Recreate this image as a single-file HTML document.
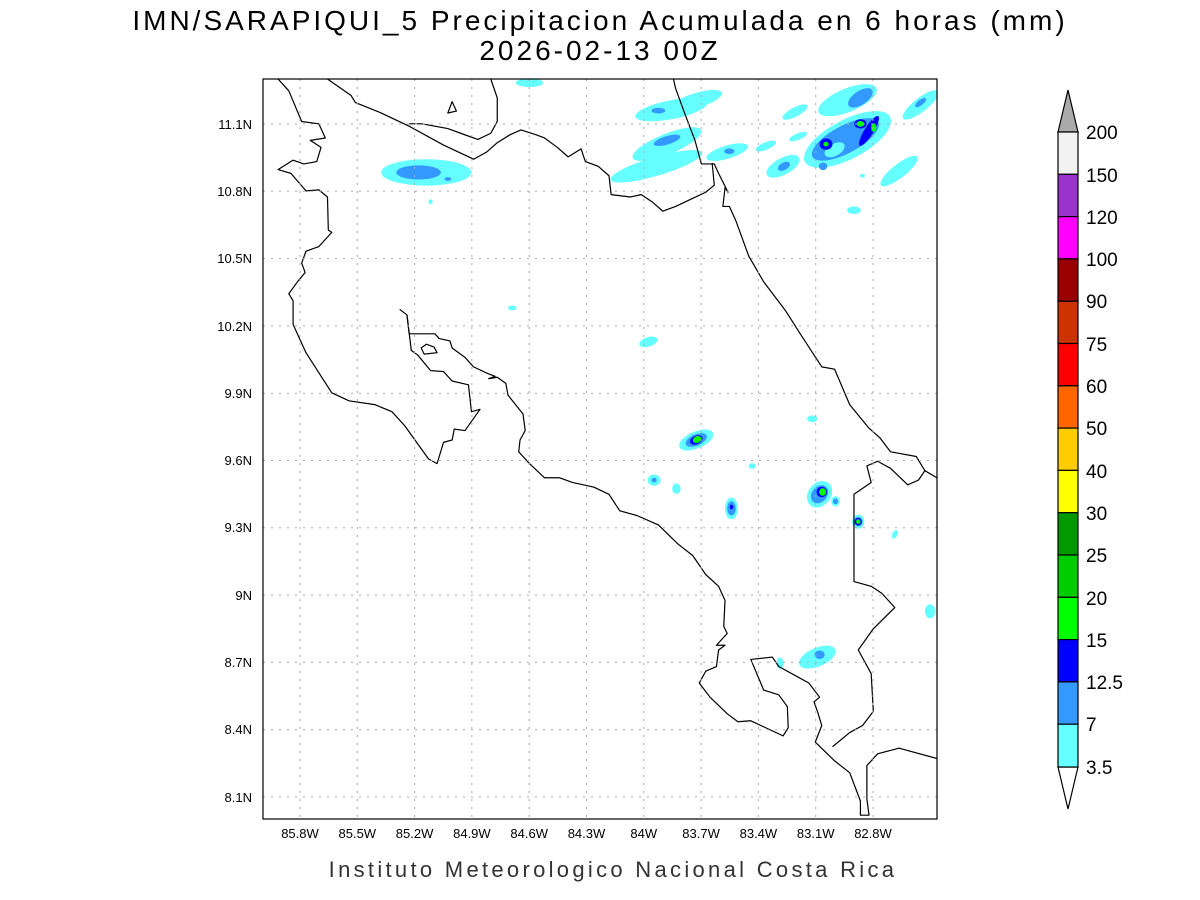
<!DOCTYPE html>
<html><head><meta charset="utf-8"><style>
html,body{margin:0;padding:0;background:#fff}
svg{display:block;font-family:"Liberation Sans",sans-serif}
</style></head><body>
<svg width="1200" height="900" viewBox="0 0 1200 900" xmlns="http://www.w3.org/2000/svg">
<rect width="1200" height="900" fill="#fff"/>
<text x="600" y="30" font-size="28" text-anchor="middle" letter-spacing="3">IMN/SARAPIQUI_5 Precipitacion Acumulada en 6 horas (mm)</text>
<text x="600" y="60" font-size="28" text-anchor="middle" letter-spacing="3">2026-02-13 00Z</text>
<text x="613" y="877" font-size="22" text-anchor="middle" fill="#333" letter-spacing="3.3">Instituto Meteorologico Nacional Costa Rica</text>
<defs><clipPath id="c"><rect x="263" y="79" width="674" height="740"/></clipPath></defs>
<g clip-path="url(#c)">
<g transform="translate(263,79) scale(0.4298,0.4719)">
<g fill="#66ffff">
<ellipse cx="380" cy="198" rx="105" ry="28"/>
<ellipse cx="620" cy="8" rx="32" ry="9"/>
<ellipse cx="950" cy="65" rx="85" ry="20" transform="rotate(-10 950 65)"/>
<ellipse cx="1010" cy="45" rx="60" ry="16" transform="rotate(-15 1010 45)"/>
<ellipse cx="940" cy="138" rx="85" ry="22" transform="rotate(-20 940 138)"/>
<ellipse cx="915" cy="185" rx="110" ry="20" transform="rotate(-15 915 185)"/>
<ellipse cx="1080" cy="155" rx="50" ry="14" transform="rotate(-15 1080 155)"/>
<ellipse cx="1170" cy="142" rx="25" ry="8" transform="rotate(-20 1170 142)"/>
<ellipse cx="1238" cy="70" rx="32" ry="10" transform="rotate(-25 1238 70)"/>
<ellipse cx="1245" cy="122" rx="22" ry="7" transform="rotate(-20 1245 122)"/>
<ellipse cx="1210" cy="185" rx="42" ry="18" transform="rotate(-25 1210 185)"/>
<ellipse cx="1360" cy="45" rx="72" ry="25" transform="rotate(-20 1360 45)"/>
<ellipse cx="1360" cy="128" rx="110" ry="42" transform="rotate(-25 1360 128)"/>
<ellipse cx="1530" cy="55" rx="50" ry="15" transform="rotate(-35 1530 55)"/>
<ellipse cx="1480" cy="195" rx="52" ry="15" transform="rotate(-35 1480 195)"/>
<ellipse cx="1375" cy="278" rx="16" ry="8"/>
<ellipse cx="1395" cy="205" rx="6" ry="4"/>
<ellipse cx="390" cy="260" rx="5" ry="5"/>
<ellipse cx="580" cy="485" rx="10" ry="5"/>
<ellipse cx="897" cy="557" rx="22" ry="10" transform="rotate(-15 897 557)"/>
<ellipse cx="1008" cy="765" rx="42" ry="18" transform="rotate(-20 1008 765)"/>
<ellipse cx="910" cy="850" rx="15" ry="12"/>
<ellipse cx="962" cy="868" rx="10" ry="11"/>
<ellipse cx="1090" cy="910" rx="15" ry="23"/>
<ellipse cx="1138" cy="820" rx="8" ry="6"/>
<ellipse cx="1278" cy="720" rx="12" ry="7"/>
<ellipse cx="1295" cy="880" rx="32" ry="25" transform="rotate(-40 1295 880)"/>
<ellipse cx="1332" cy="895" rx="10" ry="11"/>
<ellipse cx="1385" cy="938" rx="14" ry="15"/>
<ellipse cx="1470" cy="965" rx="6" ry="10" transform="rotate(30 1470 965)"/>
<ellipse cx="1552" cy="1128" rx="12" ry="15"/>
<ellipse cx="1290" cy="1225" rx="45" ry="20" transform="rotate(-20 1290 1225)"/>
<ellipse cx="1203" cy="1238" rx="8" ry="12"/>
</g>
<g fill="#3399ff">
<ellipse cx="362" cy="198" rx="52" ry="15"/>
<ellipse cx="430" cy="212" rx="8" ry="4"/>
<ellipse cx="940" cy="130" rx="32" ry="9" transform="rotate(-15 940 130)"/>
<ellipse cx="920" cy="67" rx="16" ry="6"/>
<ellipse cx="1085" cy="153" rx="12" ry="6"/>
<ellipse cx="1212" cy="185" rx="15" ry="8" transform="rotate(-25 1212 185)"/>
<ellipse cx="1390" cy="40" rx="32" ry="15" transform="rotate(-30 1390 40)"/>
<ellipse cx="1355" cy="128" rx="85" ry="30" transform="rotate(-25 1355 128)"/>
<ellipse cx="1303" cy="185" rx="10" ry="8"/>
<ellipse cx="1530" cy="50" rx="15" ry="6" transform="rotate(-35 1530 50)"/>
<ellipse cx="1008" cy="765" rx="26" ry="12" transform="rotate(-20 1008 765)"/>
<ellipse cx="910" cy="850" rx="6" ry="5"/>
<ellipse cx="1090" cy="910" rx="10" ry="15"/>
<ellipse cx="1295" cy="880" rx="22" ry="17" transform="rotate(-40 1295 880)"/>
<ellipse cx="1332" cy="895" rx="6" ry="6"/>
<ellipse cx="1385" cy="938" rx="10" ry="10"/>
<ellipse cx="1295" cy="1220" rx="12" ry="9"/>
</g>
<ellipse cx="1330" cy="150" rx="25" ry="13" fill="#66ffff" transform="rotate(-25 1330 150)"/>
<g fill="#0000ff">
<ellipse cx="1310" cy="138" rx="15" ry="12"/>
<ellipse cx="1410" cy="110" rx="38" ry="10" transform="rotate(-55 1410 110)"/>
<ellipse cx="1390" cy="95" rx="14" ry="10"/>
<ellipse cx="1008" cy="765" rx="15" ry="9" transform="rotate(-20 1008 765)"/>
<ellipse cx="1090" cy="907" rx="4" ry="5"/>
<ellipse cx="1300" cy="875" rx="12" ry="11"/>
<ellipse cx="1385" cy="938" rx="8" ry="8"/>
</g>
<g fill="#00ff00">
<ellipse cx="1390" cy="95" rx="9" ry="6"/>
<ellipse cx="1421" cy="103" rx="6" ry="9"/>
<ellipse cx="1310" cy="138" rx="6" ry="5"/>
<ellipse cx="1010" cy="764" rx="10" ry="7" transform="rotate(-20 1010 764)"/>
<ellipse cx="1302" cy="875" rx="8" ry="8"/>
<ellipse cx="1385" cy="938" rx="5" ry="5"/>
</g>
<g fill="none" stroke="#000" stroke-width="1.2" vector-effect="non-scaling-stroke" stroke-linejoin="round">
<polyline vector-effect="non-scaling-stroke" points="35,0 60,25 90,90 130,95 145,125 110,130 135,145 125,175 95,180 70,172 35,192 65,200 100,237 130,235 150,250 152,320 160,325 130,355 100,365 90,390 98,410 80,430 60,455 70,470 70,520 100,580 160,665 200,682 260,690 300,705 330,735 385,805 405,815 420,770 440,765 445,742 470,745 505,700 485,705 478,648 440,640 420,620 390,618 360,585 345,575 335,500 318,488"/>
<polyline vector-effect="non-scaling-stroke" points="335,500 340,540 400,540 410,550 435,555 440,570 470,590 490,610 525,625 540,630 525,635 545,632 565,645 570,670 605,710 610,745 598,765 595,790 620,815 655,845 690,845 720,855 770,865 805,880 830,915 870,925 920,945 965,985 1000,1010 1030,1050 1060,1075 1075,1105 1072,1160 1080,1175 1055,1200 1075,1200 1060,1210 1055,1245 1030,1255 1015,1280 1040,1310 1080,1345 1105,1362 1135,1360 1210,1392 1222,1375 1220,1330 1200,1305 1165,1295 1135,1230 1185,1225 1200,1245 1240,1265 1270,1280 1295,1310 1282,1320 1290,1340 1300,1370 1285,1405 1330,1445 1365,1470 1390,1530 1390,1560 1410,1560 1405,1525 1405,1455 1430,1430 1480,1418 1568,1440"/>
<polyline vector-effect="non-scaling-stroke" points="1325,1415 1365,1385 1395,1370 1420,1340 1415,1260 1385,1210 1420,1165 1470,1120 1440,1090 1415,1075 1375,1065 1375,880 1415,855 1405,820 1430,810 1460,825 1500,860 1525,850 1540,830 1568,845"/>
<polyline vector-effect="non-scaling-stroke" points="1540,830 1520,800 1460,790 1435,760 1410,740 1365,690 1330,615 1300,610 1250,540 1215,490 1165,430 1130,375 1100,300 1085,270 1070,270 1075,230 1082,240 1060,200 1050,180 1020,180 1005,130 980,70 960,20 955,0"/>
<polyline vector-effect="non-scaling-stroke" points="1045,178 1050,225 1030,240 995,255 960,270 930,280 905,260 880,245 855,250 810,245 805,205 780,185 750,175 740,148 710,165 685,145 655,125 635,118 600,108 575,118 545,135 520,155 490,170 420,140 340,100 270,70 215,50 205,35 150,0"/>
<polyline vector-effect="non-scaling-stroke" points="530,0 545,40 545,90 530,115 500,128 475,120 430,105 370,95 340,95"/>
<polygon vector-effect="non-scaling-stroke" points="430,72 440,48 450,68"/>
<polygon vector-effect="non-scaling-stroke" points="368,570 380,562 398,568 405,580 375,583"/>
</g>
</g>
</g>
<g stroke="#aaa" stroke-width="1" stroke-dasharray="2,6">
<line x1="300" y1="79" x2="300" y2="819"/><line x1="357.3" y1="79" x2="357.3" y2="819"/><line x1="414.6" y1="79" x2="414.6" y2="819"/><line x1="471.9" y1="79" x2="471.9" y2="819"/><line x1="529.2" y1="79" x2="529.2" y2="819"/><line x1="586.5" y1="79" x2="586.5" y2="819"/><line x1="643.8" y1="79" x2="643.8" y2="819"/><line x1="701.1" y1="79" x2="701.1" y2="819"/><line x1="758.4" y1="79" x2="758.4" y2="819"/><line x1="815.7" y1="79" x2="815.7" y2="819"/><line x1="873" y1="79" x2="873" y2="819"/>
<line x1="263" y1="124" x2="937" y2="124"/><line x1="263" y1="191.3" x2="937" y2="191.3"/><line x1="263" y1="258.6" x2="937" y2="258.6"/><line x1="263" y1="325.9" x2="937" y2="325.9"/><line x1="263" y1="393.2" x2="937" y2="393.2"/><line x1="263" y1="460.5" x2="937" y2="460.5"/><line x1="263" y1="527.8" x2="937" y2="527.8"/><line x1="263" y1="595.1" x2="937" y2="595.1"/><line x1="263" y1="662.4" x2="937" y2="662.4"/><line x1="263" y1="729.7" x2="937" y2="729.7"/><line x1="263" y1="797" x2="937" y2="797"/>
</g>
<rect x="263" y="79" width="674" height="740" fill="none" stroke="#000" stroke-width="1.2"/>
<g font-size="13" text-anchor="middle">
<text x="300" y="838">85.8W</text><text x="357.3" y="838">85.5W</text><text x="414.6" y="838">85.2W</text><text x="471.9" y="838">84.9W</text><text x="529.2" y="838">84.6W</text><text x="586.5" y="838">84.3W</text><text x="643.8" y="838">84W</text><text x="701.1" y="838">83.7W</text><text x="758.4" y="838">83.4W</text><text x="815.7" y="838">83.1W</text><text x="873" y="838">82.8W</text>
</g>
<g font-size="13" text-anchor="end">
<text x="252" y="129">11.1N</text><text x="252" y="196">10.8N</text><text x="252" y="263">10.5N</text><text x="252" y="331">10.2N</text><text x="252" y="398">9.9N</text><text x="252" y="465">9.6N</text><text x="252" y="532">9.3N</text><text x="252" y="600">9N</text><text x="252" y="667">8.7N</text><text x="252" y="734">8.4N</text><text x="252" y="802">8.1N</text>
</g>
<g stroke="#000" stroke-width="1.2">
<polygon points="1058,132 1068,90 1078,132" fill="#aaaaaa"/>
<polygon points="1058,767 1068,809 1078,767" fill="#fff"/>
<rect x="1058" y="132" width="20" height="42.3" fill="#f2f2f2"/>
<rect x="1058" y="174.3" width="20" height="42.3" fill="#9933cc"/>
<rect x="1058" y="216.6" width="20" height="42.3" fill="#ff00ff"/>
<rect x="1058" y="258.9" width="20" height="42.3" fill="#990000"/>
<rect x="1058" y="301.2" width="20" height="42.3" fill="#cc3300"/>
<rect x="1058" y="343.5" width="20" height="42.3" fill="#ff0000"/>
<rect x="1058" y="385.8" width="20" height="42.3" fill="#ff6600"/>
<rect x="1058" y="428.1" width="20" height="42.3" fill="#ffcc00"/>
<rect x="1058" y="470.4" width="20" height="42.3" fill="#ffff00"/>
<rect x="1058" y="512.7" width="20" height="42.3" fill="#009900"/>
<rect x="1058" y="555" width="20" height="42.3" fill="#00cc00"/>
<rect x="1058" y="597.3" width="20" height="42.3" fill="#00ff00"/>
<rect x="1058" y="639.6" width="20" height="42.3" fill="#0000ff"/>
<rect x="1058" y="681.9" width="20" height="42.3" fill="#3399ff"/>
<rect x="1058" y="724.2" width="20" height="42.8" fill="#66ffff"/>
</g>
<g font-size="19">
<text x="1086" y="139">200</text><text x="1086" y="182">150</text><text x="1086" y="224">120</text><text x="1086" y="266">100</text><text x="1086" y="308">90</text><text x="1086" y="351">75</text><text x="1086" y="393">60</text><text x="1086" y="435">50</text><text x="1086" y="478">40</text><text x="1086" y="520">30</text><text x="1086" y="562">25</text><text x="1086" y="605">20</text><text x="1086" y="647">15</text><text x="1086" y="689">12.5</text><text x="1086" y="731">7</text><text x="1086" y="774">3.5</text>
</g>
</svg>
</body></html>
